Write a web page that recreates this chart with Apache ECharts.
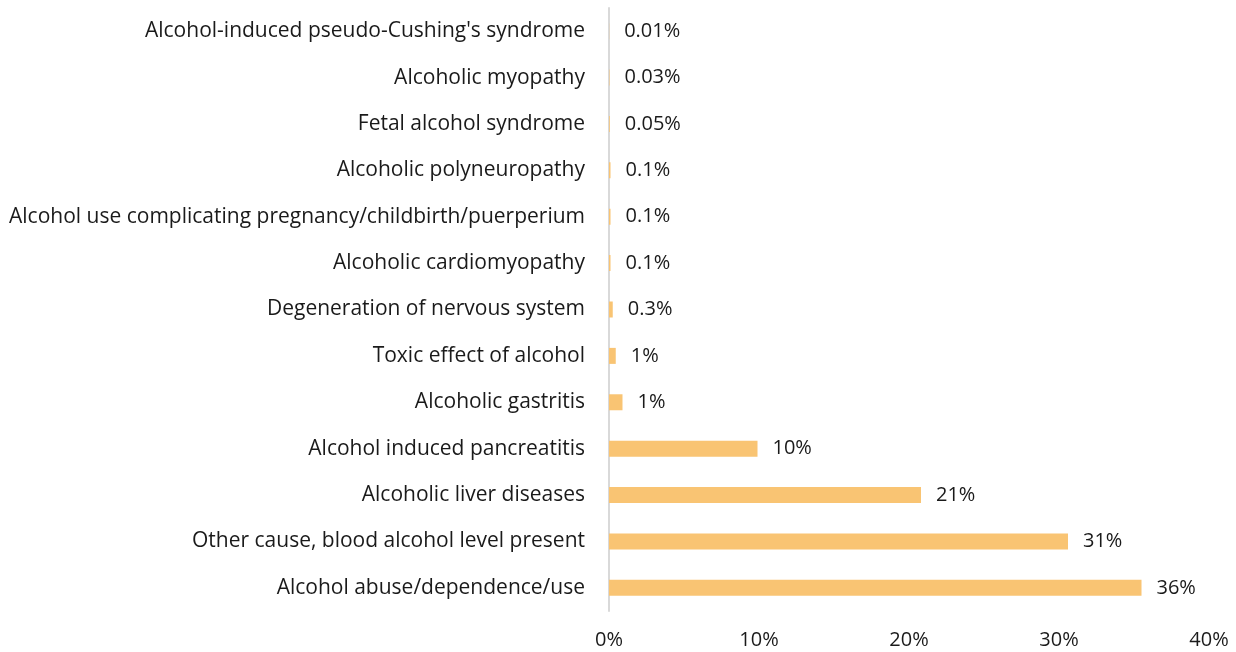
<!DOCTYPE html>
<html>
<head>
<meta charset="utf-8">
<script src="https://cdn.jsdelivr.net/npm/echarts@6/dist/echarts.min.js"></script>
<style>
  html, body { margin: 0; padding: 0; background: #fff; }
  #chart { width: 1236px; height: 652px; }
</style>
</head>
<body>
<div id="chart"></div>
<script>
// bottom to top, as the category axis draws them
const causes = [
  "Alcohol abuse/dependence/use",
  "Other cause, blood alcohol level present",
  "Alcoholic liver diseases",
  "Alcohol induced pancreatitis",
  "Alcoholic gastritis",
  "Toxic effect of alcohol",
  "Degeneration of nervous system",
  "Alcoholic cardiomyopathy",
  "Alcohol use complicating pregnancy/childbirth/puerperium",
  "Alcoholic polyneuropathy",
  "Fetal alcohol syndrome",
  "Alcoholic myopathy",
  "Alcohol-induced pseudo-Cushing's syndrome",
];
const shares = [35.5, 30.6, 20.8, 9.9, 0.9, 0.45, 0.25, 0.1, 0.1, 0.1, 0.05, 0.03, 0.01];
const shareLabels = ["36%", "31%", "21%", "10%", "1%", "1%", "0.3%", "0.1%", "0.1%", "0.1%", "0.05%", "0.03%", "0.01%"];
const xTicks = [0, 10, 20, 30, 40];

const font = "'Open Sans', sans-serif";
const chart = echarts.init(document.getElementById("chart"));

chart.setOption({
  animation: false,
  grid: { left: 609, right: 27, top: 8, bottom: 41 },
  xAxis: {
    type: "value",
    min: xTicks[0],
    max: xTicks[xTicks.length - 1],
    interval: 10,
    splitLine: { show: false },
    axisLine: { show: false },
    axisTick: { show: false },
    axisLabel: {
      color: "#1a1a1a",
      fontSize: 20,
      fontFamily: font,
      margin: 19,
      formatter: (v) => `${v}%`,
    },
  },
  yAxis: {
    type: "category",
    data: causes,
    axisLine: { lineStyle: { color: "#d9d9d9", width: 2 } },
    axisTick: { show: false },
    axisLabel: {
      color: "#1a1a1a",
      fontSize: 21,
      fontFamily: font,
      margin: 24,
    },
  },
  series: [
    {
      type: "bar",
      data: shares,
      barWidth: 16,
      itemStyle: { color: "#f9c473" },
      label: {
        show: true,
        position: "right",
        distance: 15,
        color: "#1a1a1a",
        fontSize: 20,
        fontFamily: font,
        formatter: (p) => shareLabels[p.dataIndex],
      },
    },
  ],
});
</script>
</body>
</html>
